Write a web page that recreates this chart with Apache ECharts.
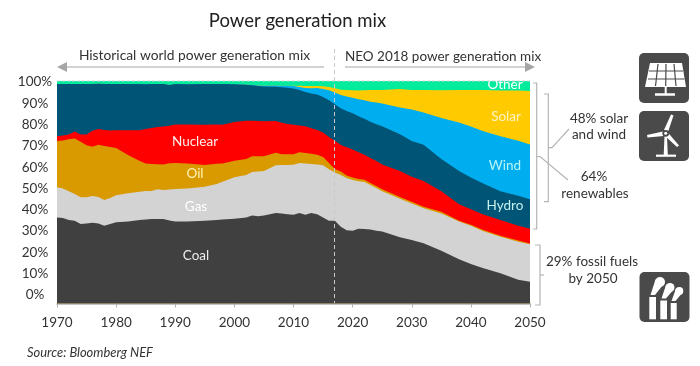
<!DOCTYPE html>
<html lang="en">
<head>
    <meta charset="utf-8">
    <title>Power generation mix</title>
    <script type="text/javascript" src="https://cdn.jsdelivr.net/npm/echarts@6/dist/echarts.min.js"></script>
    <style>
        html, body { margin: 0; padding: 0; background: #fff; }
        #main { width: 700px; height: 366px; }
    </style>
</head>
<body>
<div id="main"></div>
<script>
    var years = [1970,1971,1972,1973,1974,1975,1976,1977,1978,1979,1980,
        1982,1984,1985,1986,1987,1988,1989,1990,
        1992,1995,1997,1998,
        2000,2002,2003,2004,2005,
        2007,2008,2009,2010,2011,2012,2013,2014,2015,2016,2017,2018,2019,2020,2021,2022,2023,2024,2025,
        2028,2030,2032,2035,2038,2040,2042,2045,2048,2050];

    // share of generation, %
    var coal = [38.7,38.4,37.5,37.2,35.7,36.0,36.3,35.9,35.0,35.7,36.5,
        36.9,37.5,37.7,38.0,38.0,38.0,37.3,36.8,
        36.9,37.2,37.5,37.8,
        38.1,38.6,39.6,39.2,39.6,
        40.7,40.5,40.1,39.9,40.7,39.9,40.7,40.1,38.7,37.2,37.2,34.5,32.9,32.7,33.6,33.5,33.3,32.7,32.4,
        29.8,28.5,27.1,23.7,19.9,17.8,16.0,13.6,10.7,9.8];
    var gas = [13.5,13.3,12.9,12.0,12.1,11.7,12.0,12.0,11.5,11.7,12.1,
        12.6,12.7,12.9,12.6,13.3,13.0,13.9,14.7,
        14.8,15.3,16.2,16.9,
        18.6,19.2,19.5,20.1,20.0,
        21.4,21.7,22.2,22.5,22.5,23.0,22.0,22.4,23.4,23.1,21.7,23.2,23.5,22.8,21.4,21.1,20.0,19.2,18.1,
        17.3,16.5,15.7,16.8,16.9,17.1,16.6,16.4,17.1,16.8];
    var oil = [20.8,21.6,23.4,25.0,24.9,23.4,22.2,23.4,24.3,22.9,21.3,
        17.2,13.8,12.3,12.1,11.3,11.5,11.8,11.7,
        11.2,9.8,9.1,8.2,
        7.5,7.2,7.1,6.9,6.6,
        5.7,4.9,4.8,4.7,4.8,4.7,4.6,4.3,3.7,2.8,1.6,1.6,1.1,1.1,1.0,1.0,0.9,0.9,0.9,
        0.8,0.7,0.7,0.7,0.4,0.5,0.5,0.5,0.5,0.4];
    var nuclear = [2.2,2.2,2.2,3.1,3.3,4.8,7.1,7.1,7.2,7.5,8.0,
        11.2,13.9,15.5,16.2,16.7,17.1,16.9,17.2,
        17.5,18.0,17.6,17.4,
        17.4,17.1,15.9,15.8,15.7,
        14.2,14.1,13.6,13.2,12.0,12.1,11.5,11.2,11.0,11.7,12.6,11.9,12.7,12.6,12.0,11.3,11.2,11.2,11.1,
        11.7,11.3,11.6,9.3,7.4,7.0,7.0,7.0,6.6,6.6];
    var hydro = [23.4,23.1,22.6,21.3,22.6,22.8,21.1,20.4,20.7,20.8,20.8,
        20.7,20.7,20.1,19.8,19.3,19.0,18.3,18.3,
        18.1,18.4,18.2,18.3,
        16.9,16.2,16.0,15.8,15.6,
        15.4,16.0,16.3,16.3,15.9,15.4,15.6,15.9,16.0,16.5,16.5,16.5,16.3,16.3,16.2,16.1,16.3,16.6,17.2,
        16.5,16.0,16.2,14.5,15.0,14.2,13.9,13.0,13.5,13.2];
    var wind = [0,0,0,0,0,0,0,0,0,0,0,
        0,0,0,0,0,0,0,0,
        0,0,0,0,
        0,0,0.1,0.2,0.4,
        0.6,0.7,0.9,1.2,1.4,1.8,2.3,2.9,3.6,4.5,5.2,6.0,6.5,7.0,7.6,8.4,9.0,9.7,10.2,
        12.0,14.2,14.5,18.4,21.7,22.9,23.5,24.7,24.7,24.7];
    var solar = [0,0,0,0,0,0,0,0,0,0,0,
        0,0,0,0,0,0,0,0,
        0,0,0,0,
        0,0,0,0,0,
        0,0,0,0.1,0.6,0.9,1.0,1.0,1.2,1.5,1.9,2.4,2.9,3.3,3.9,4.4,5.3,5.7,6.1,
        8.3,8.7,10.2,12.4,14.7,16.5,18.4,20.5,22.6,24.0];
    var other = [1.4,1.4,1.4,1.4,1.4,1.3,1.3,1.2,1.3,1.4,1.3,
        1.4,1.4,1.5,1.3,1.4,1.4,1.8,1.3,
        1.5,1.3,1.4,1.4,
        1.5,1.7,1.8,2.0,2.1,
        2.0,2.1,2.1,2.1,2.1,2.2,2.3,2.2,2.4,2.7,3.3,3.9,4.1,4.2,4.3,4.2,4.0,4.0,4.0,
        3.6,4.1,4.0,4.2,4.0,4.0,4.1,4.3,4.3,4.5];

    var yTicks = [0,10,20,30,40,50,60,70,80,90,100];

    var textFont = 'Lato';
    var iconBg = '#4a4a4a';
    var bracketColor = '#b5b5b5';

    // stack option only adds along x when both axes are value axes, so keep the running total here
    var runningTotal = years.map(function () { return 0; });
    function makeSeries(name, values, color, order) {
        runningTotal = runningTotal.map(function (t, i) { return t + values[i]; });
        var tops = runningTotal;
        return {
            name: name,
            type: 'line',
            symbol: 'none',
            yAxisIndex: 0,
            z: order + 2, // lower layers paint over the taller ones behind them
            lineStyle: { width: 0 },
            areaStyle: { color: color, opacity: 1 },
            data: years.map(function (y, i) { return [y, Math.min(tops[i], 100)]; })
        };
    }

    // helpers for annotations
    function label(text, x, y, color, size) {
        return { type: 'text', z: 100, x: x, y: y, style: {
            text: text, fill: color || '#333', font: (size || 13.5) + 'px ' + textFont,
            textAlign: 'center', textVerticalAlign: 'middle' } };
    }
    function seg(points, color, width, dash) {
        return { type: 'polyline', z: 102, shape: { points: points },
            style: { stroke: color, lineWidth: width, fill: null, lineDash: dash || null } };
    }
    function poly(points, color) {
        return { type: 'polygon', z: 101, shape: { points: points }, style: { fill: color } };
    }
    function box(x, y) {
        return { type: 'rect', z: 100, shape: { x: x, y: y, width: 50, height: 50, r: 5 }, style: { fill: iconBg } };
    }
    function dot(cx, cy, r, color) {
        return { type: 'circle', z: 103, shape: { cx: cx, cy: cy, r: r }, style: { fill: color } };
    }

    var extras = [
        // arrows on top
        label('Historical world power generation mix', 194.5, 56, '#333', 13.8),
        seg([[65, 67], [324, 67]], '#a6a6a6', 1.2),
        poly([[57, 67], [67, 62], [67, 72]], '#a6a6a6'),
        label('NEO 2018 power generation mix', 443, 57),
        seg([[345, 67], [526, 67]], '#a6a6a6', 1.2),
        poly([[535, 67], [525, 62], [525, 72]], '#a6a6a6'),
        // top line and 2017 divider
        seg([[57, 81], [530, 81]], '#d0d0d0', 1, [3, 2]),
        seg([[334.5, 49], [334.5, 303]], '#c9c9c9', 1, [4, 3]),

        // labels in the areas
        label('Nuclear', 195, 142, '#fff0ee'),
        label('Oil', 195, 174, '#fff3b8'),
        label('Gas', 196, 207, '#ffffff'),
        label('Coal', 196, 256, '#ececec'),
        label('Other', 505, 85, '#ffffff'),
        label('Solar', 506, 117, '#fff3c4'),
        label('Wind', 505, 166, '#b8f4f4'),
        label('Hydro', 505, 206, '#c4f0ec'),

        // brackets
        seg([[533, 83], [536.7, 83], [536.7, 229], [533, 229]], bracketColor, 1.2),
        seg([[536.7, 156.5], [540, 156.5], [568, 180]], bracketColor, 1.2),
        seg([[544, 94], [548.3, 94], [548.3, 201.7], [544, 201.7]], bracketColor, 1.2),
        seg([[548.3, 147.7], [552, 147.7], [569, 129]], bracketColor, 1.2),
        seg([[535, 245], [540, 245], [540, 305], [535, 305]], bracketColor, 1.2),
        seg([[540, 275], [544, 275]], bracketColor, 1.2),

        label('48% solar', 599, 119),
        label('and wind', 599, 135),
        label('64%', 594, 177),
        label('renewables', 595, 194),
        label('29% fossil fuels', 592, 262),
        label('by 2050', 593, 279),

        // solar panel icon
        box(639, 53),
        poly([[650, 63], [682, 63], [686, 87], [645, 87]], '#ffffff'),
        seg([[658, 64], [655.5, 86]], iconBg, 1.2),
        seg([[666, 64], [665.7, 86]], iconBg, 1.2),
        seg([[674, 64], [676, 86]], iconBg, 1.2),
        seg([[649, 71], [683, 71]], iconBg, 1.2),
        seg([[648, 79], [684.5, 79]], iconBg, 1.2),
        seg([[665.7, 87], [665.7, 94]], '#ffffff', 2),
        seg([[655, 94.5], [675, 94.5]], '#ffffff', 2.5),

        // wind turbine icon
        box(639, 111),
        poly([[664, 130], [671, 114.5], [673.5, 115.5], [668, 132]], '#ffffff'),
        poly([[663, 131.5], [647, 135], [647.5, 137.5], [664, 136]], '#ffffff'),
        poly([[667, 131.5], [664.5, 135.5], [677, 147], [679, 145.5]], '#ffffff'),
        poly([[664.5, 136], [667, 136], [667.8, 155], [663.7, 155]], '#ffffff'),
        seg([[656, 155.7], [676, 155.7]], '#ffffff', 2.2),
        dot(665.7, 133.3, 3.4, iconBg),
        dot(665.7, 133.3, 1.5, '#ffffff'),

        // chimneys icon
        box(639.5, 272),
        poly([[649.3, 297], [656, 297], [656, 319.3], [649.3, 319.3]], '#ffffff'),
        poly([[660.3, 300.5], [667, 300.5], [667, 319.3], [660.3, 319.3]], '#ffffff'),
        poly([[670.7, 303], [676.7, 303], [676.7, 319.3], [670.7, 319.3]], '#ffffff'),
        poly([[650.5, 295], [655, 295], [664.5, 283], [655.5, 279.5]], '#ffffff'),
        dot(660, 282, 5, '#ffffff'),
        poly([[661.5, 298.5], [666, 298.5], [674, 289], [666, 285]], '#ffffff'),
        dot(670, 287.5, 4.5, '#ffffff'),
        poly([[671.5, 301], [675.5, 301], [683, 292], [676, 288.5]], '#ffffff'),
        dot(679.3, 291, 4, '#ffffff'),

        label('Source: Bloomberg NEF', 90, 353, '#333', 12.9)
    ];
    // source line is italic
    extras[extras.length - 1].style.font = 'italic 12.9px ' + textFont;

    var chartDom = document.getElementById('main');
    var myChart = echarts.init(chartDom, null, { renderer: 'canvas' });

    var option = {
        animation: false,
        backgroundColor: '#ffffff',
        textStyle: { fontFamily: textFont },
        title: {
            text: 'Power generation mix',
            left: 292.5,
            top: 7,
            textAlign: 'center',
            textStyle: { fontFamily: textFont, fontSize: 18.5, fontWeight: 'normal', color: '#222' }
        },
        grid: { left: 57, top: 81, width: 473, height: 222.5 },
        xAxis: {
            type: 'value',
            min: 1970,
            max: 2050,
            interval: 10,
            splitLine: { show: false },
            axisLine: { lineStyle: { color: '#b0b0b0', width: 1.5 } },
            axisTick: { length: 4, lineStyle: { color: '#b0b0b0' } },
            axisLabel: {
                margin: 12,
                fontSize: 13.5,
                color: '#333',
                fontFamily: textFont,
                showMaxLabel: true,
                formatter: function (v) { return String(v); }
            }
        },
        yAxis: [
            // scale the areas are drawn on
            { type: 'value', min: 0, max: 100, show: false },
            // printed labels sit on a tighter scale than the plot in the original
            {
                type: 'value',
                min: -4,
                max: 100.5,
                position: 'left',
                splitLine: { show: false },
                axisLine: { show: false },
                axisTick: { show: false },
                axisLabel: {
                    customValues: yTicks,
                    align: 'center',
                    margin: 22,
                    fontSize: 13.5,
                    color: '#333',
                    fontFamily: textFont,
                    formatter: '{value}%'
                }
            }
        ],
        series: [
            makeSeries('Coal', coal, '#404040', 8),
            makeSeries('Gas', gas, '#d3d3d3', 7),
            makeSeries('Oil', oil, '#d99a00', 6),
            makeSeries('Nuclear', nuclear, '#ff0000', 5),
            makeSeries('Hydro', hydro, '#005577', 4),
            makeSeries('Wind', wind, '#00aeef', 3),
            makeSeries('Solar', solar, '#ffcb00', 2),
            makeSeries('Other', other, '#00ec9c', 1)
        ],
        graphic: { elements: extras }
    };
    myChart.setOption(option);
</script>
</body>
</html>
